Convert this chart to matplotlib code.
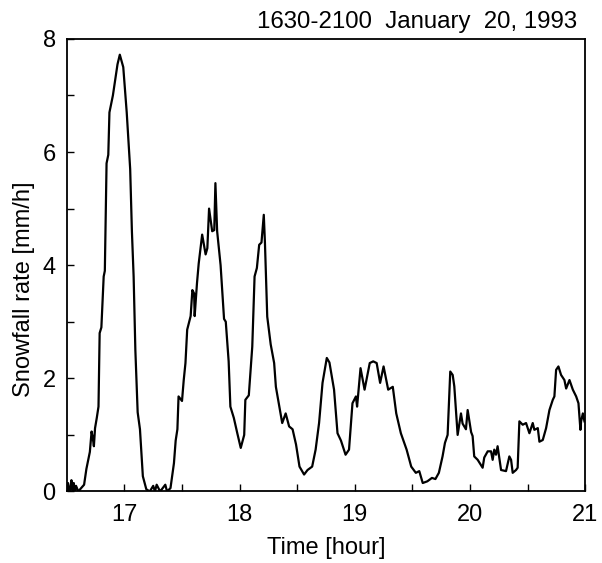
import matplotlib
matplotlib.use("Agg")
import matplotlib.pyplot as plt
from matplotlib.ticker import MultipleLocator

plt.rcParams["font.family"] = ["Liberation Sans", "DejaVu Sans"]

# time [hour] and snowfall rate [mm/h]
time_h = [16.50, 16.51, 16.52, 16.53, 16.54, 16.55, 16.56, 16.57, 16.58, 16.60,
          16.62, 16.65, 16.67, 16.69, 16.70, 16.715, 16.725, 16.735, 16.745, 16.76,
          16.775, 16.785, 16.80, 16.82, 16.83, 16.845, 16.86, 16.87, 16.90, 16.94,
          16.96, 16.99, 17.02, 17.05, 17.065, 17.08, 17.095, 17.115, 17.135, 17.16,
          17.19, 17.22, 17.25, 17.265, 17.28, 17.31, 17.355, 17.37, 17.40, 17.43,
          17.445, 17.46, 17.47, 17.50, 17.515, 17.53, 17.545, 17.575, 17.59, 17.605,
          17.61, 17.63, 17.645, 17.675, 17.705, 17.72, 17.735, 17.762, 17.78, 17.79,
          17.805, 17.835, 17.865, 17.88, 17.905, 17.92, 17.95, 17.98, 18.01, 18.04,
          18.05, 18.08, 18.11, 18.13, 18.15, 18.17, 18.19, 18.21, 18.22, 18.24,
          18.27, 18.30, 18.315, 18.34, 18.37, 18.40, 18.43, 18.46, 18.49, 18.52,
          18.56, 18.59, 18.63, 18.66, 18.69, 18.72, 18.757, 18.78, 18.82, 18.85,
          18.88, 18.92, 18.95, 18.98, 19.01, 19.02, 19.05, 19.085, 19.13, 19.16,
          19.19, 19.22, 19.25, 19.29, 19.33, 19.36, 19.40, 19.45, 19.49, 19.53,
          19.56, 19.59, 19.63, 19.67, 19.70, 19.73, 19.762, 19.783, 19.806, 19.829,
          19.85, 19.864, 19.878, 19.893, 19.922, 19.936, 19.965, 19.98, 20.01, 20.023,
          20.037, 20.067, 20.11, 20.124, 20.154, 20.183, 20.197, 20.211, 20.226, 20.24,
          20.27, 20.313, 20.342, 20.357, 20.371, 20.40, 20.414, 20.429, 20.458, 20.487,
          20.516, 20.545, 20.559, 20.589, 20.603, 20.632, 20.661, 20.69, 20.719, 20.733,
          20.748, 20.768, 20.791, 20.82, 20.835, 20.864, 20.893, 20.922, 20.942, 20.959,
          20.965, 20.98, 20.994]
rate = [0.00, 0.15, 0.00, 0.05, 0.20, 0.02, 0.15, 0.00, 0.10, 0.00,
        0.05, 0.12, 0.40, 0.60, 0.70, 1.06, 0.95, 0.80, 1.12, 1.30,
        1.50, 2.80, 2.90, 3.80, 3.90, 5.80, 5.95, 6.70, 7.00, 7.55,
        7.72, 7.50, 6.70, 5.70, 4.60, 3.80, 2.50, 1.40, 1.10, 0.27,
        0.04, 0.00, 0.10, 0.00, 0.12, 0.00, 0.12, 0.00, 0.06, 0.50,
        0.90, 1.10, 1.68, 1.60, 1.97, 2.27, 2.86, 3.10, 3.56, 3.50,
        3.10, 3.68, 4.03, 4.54, 4.19, 4.30, 5.00, 4.60, 4.62, 5.45,
        4.60, 4.00, 3.05, 3.00, 2.30, 1.50, 1.30, 1.03, 0.77, 1.00,
        1.62, 1.70, 2.56, 3.80, 3.95, 4.36, 4.40, 4.89, 4.40, 3.09,
        2.60, 2.27, 1.85, 1.56, 1.21, 1.38, 1.15, 1.10, 0.83, 0.44,
        0.30, 0.38, 0.44, 0.74, 1.21, 1.92, 2.36, 2.28, 1.80, 1.03,
        0.90, 0.65, 0.74, 1.56, 1.68, 1.50, 2.18, 1.80, 2.27, 2.30,
        2.27, 1.92, 2.21, 1.80, 1.85, 1.38, 1.03, 0.74, 0.44, 0.33,
        0.36, 0.15, 0.18, 0.24, 0.22, 0.33, 0.62, 0.86, 1.00, 2.12,
        2.06, 1.86, 1.44, 1.00, 1.38, 1.20, 1.10, 1.44, 1.05, 0.98,
        0.62, 0.56, 0.42, 0.60, 0.71, 0.71, 0.56, 0.74, 0.65, 0.80,
        0.38, 0.36, 0.62, 0.56, 0.33, 0.38, 0.42, 1.24, 1.18, 1.21,
        1.03, 1.21, 1.09, 1.12, 0.88, 0.91, 1.12, 1.44, 1.62, 1.68,
        2.15, 2.21, 2.06, 1.97, 1.82, 1.97, 1.80, 1.68, 1.56, 1.09,
        1.24, 1.38, 1.24]

x_ticks = [17, 18, 19, 20, 21]
y_ticks = [0, 2, 4, 6, 8]

fig = plt.figure(figsize=(6.02, 5.63), dpi=100)
ax = fig.add_axes([0.111, 0.127, 0.861, 0.804])

ax.plot(time_h, rate, color="black", lw=1.6)

ax.set_xlim(16.5, 21)
ax.set_ylim(0, 8)
ax.set_xticks(x_ticks)
ax.set_yticks(y_ticks)
ax.xaxis.set_minor_locator(MultipleLocator(0.5))
ax.yaxis.set_minor_locator(MultipleLocator(1))
ax.tick_params(which="both", direction="in", length=5, width=1,
               top=False, right=False, labelsize=17)
ax.tick_params(axis="x", pad=9)
ax.tick_params(axis="y", pad=8)
for sp in ax.spines.values():
    sp.set_linewidth(1.3)

ax.set_xlabel("Time [hour]", fontsize=17, labelpad=8)
ax.set_ylabel("Snowfall rate [mm/h]", fontsize=17)
ax.yaxis.set_label_coords(-0.062, 0.447)
ax.text(1 - 8 / 518, 1 + 11 / 452, "1630-2100  January  20, 1993",
        transform=ax.transAxes, ha="right", va="baseline", fontsize=17.3)

fig.savefig("out.png", dpi=100)
